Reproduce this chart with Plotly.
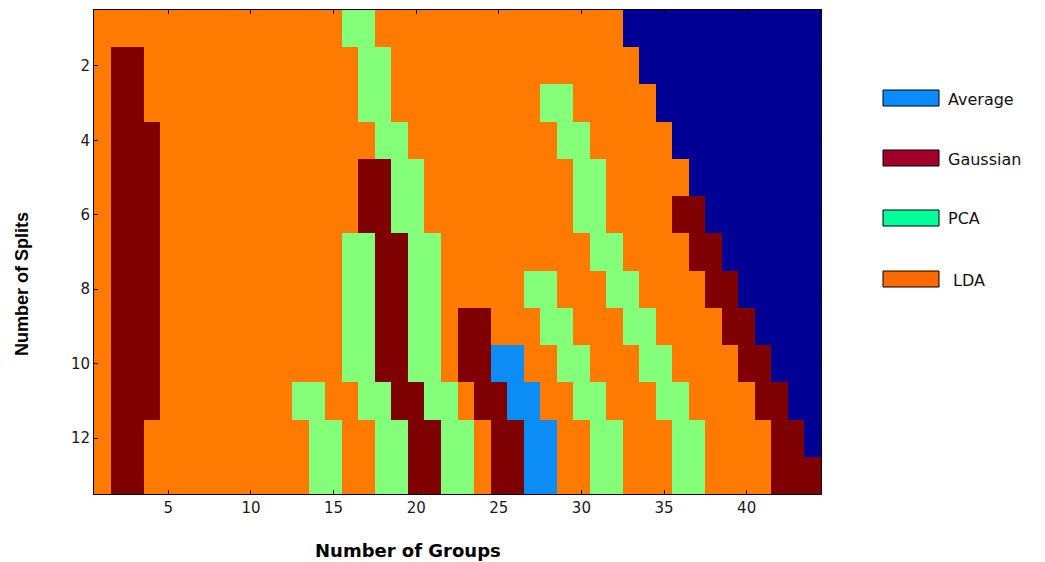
import plotly.graph_objects as go

# Best method per (number of splits, number of groups), written as runs
# of "<code><count>" along the groups axis, one entry per number of splits.
# Codes: N = not applicable, A = Average, G = Gaussian, P = PCA, L = LDA
n_groups = list(range(1, 45))
n_splits = list(range(1, 14))

best_method_runs = [
    "L15 P2 L15 N12",
    "L1 G2 L13 P2 L15 N11",
    "L1 G2 L13 P2 L9 P2 L5 N10",
    "L1 G3 L13 P2 L9 P2 L5 N9",
    "L1 G3 L12 G2 P2 L9 P2 L5 N8",
    "L1 G3 L12 G2 P2 L9 P2 L4 G2 N7",
    "L1 G3 L11 P2 G2 P2 L9 P2 L4 G2 N6",
    "L1 G3 L11 P2 G2 P2 L5 P2 L3 P2 L4 G2 N5",
    "L1 G3 L11 P2 G2 P2 L1 G2 L3 P2 L3 P2 L4 G2 N4",
    "L1 G3 L11 P2 G2 P2 L1 G2 A2 L2 P2 L3 P2 L4 G2 N3",
    "L1 G3 L8 P2 L2 P2 G2 P2 L1 G2 A2 L2 P2 L3 P2 L4 G2 N2",
    "L1 G2 L10 P2 L2 P2 G2 P2 L1 G2 A2 L2 P2 L3 P2 L4 G2 N1",
    "L1 G2 L10 P2 L2 P2 G2 P2 L1 G2 A2 L2 P2 L3 P2 L4 G3",
]

method_codes = {"N": 0, "A": 1, "G": 2, "P": 3, "L": 4}
cell_colors = ["#000094", "#0C8CF5", "#7F0000", "#84FF7A", "#FF7A00"]

legend_labels = ["Average", "Gaussian", "PCA", " LDA"]
legend_colors = ["#0A8CFF", "#A0002A", "#00FF99", "#FF6A00"]

x_tick_vals = [5, 10, 15, 20, 25, 30, 35, 40]
y_tick_vals = [2, 4, 6, 8, 10, 12]


def expand_runs(spec):
    row = []
    for token in spec.split():
        row.extend([method_codes[token[0]]] * int(token[1:]))
    assert len(row) == len(n_groups), (spec, len(row))
    return row


z = [expand_runs(spec) for spec in best_method_runs]

# stepped colour scale, one band per method code
k = len(cell_colors)
colorscale = []
for i, c in enumerate(cell_colors):
    colorscale.append([i / k, c])
    colorscale.append([(i + 1) / k, c])

fig = go.Figure(
    go.Heatmap(
        x=n_groups,
        y=n_splits,
        z=z,
        zmin=-0.5,
        zmax=k - 0.5,
        colorscale=colorscale,
        showscale=False,
        hoverinfo="skip",
    )
)

tick_font = dict(family="DejaVu Sans, Liberation Sans, Arial", size=15, color="#1a1a1a")

axis_style = dict(
    ticks="inside",
    ticklen=4,
    tickcolor="black",
    showline=True,
    linecolor="black",
    linewidth=1,
    mirror="ticks",
    showgrid=False,
    zeroline=False,
    tickfont=tick_font,
)
fig.update_xaxes(range=[0.5, 44.5], tickvals=x_tick_vals, **axis_style)
fig.update_yaxes(range=[13.5, 0.5], tickvals=y_tick_vals, **axis_style)

plot_l, plot_r, plot_t, plot_b = 94, 821, 10, 494
W, H = 1045, 562
pw, ph = plot_r - plot_l, plot_b - plot_t


def px_x(px):
    return (px - plot_l) / pw


def px_y(py):
    return (plot_b - py) / ph


shapes = []
annotations = []
legend_tops = [90, 150, 210, 271]
for label, color, top in zip(legend_labels, legend_colors, legend_tops):
    shapes.append(
        dict(
            type="rect",
            xref="paper",
            yref="paper",
            x0=px_x(883),
            x1=px_x(939),
            y0=px_y(top + 16),
            y1=px_y(top),
            fillcolor=color,
            line=dict(color="black", width=1),
        )
    )
    annotations.append(
        dict(
            xref="paper",
            yref="paper",
            x=px_x(946),
            y=px_y(top + 9),
            xanchor="left",
            yanchor="middle",
            text=label,
            showarrow=False,
            font=dict(family="DejaVu Sans, Liberation Sans, Arial", size=16, color="#111111"),
        )
    )

annotations.append(
    dict(
        xref="paper",
        yref="paper",
        x=px_x(408),
        y=px_y(550),
        xanchor="center",
        yanchor="middle",
        text="<b>Number of Groups</b>",
        showarrow=False,
        font=dict(family="DejaVu Sans, Liberation Sans, Arial", size=18, color="black"),
    )
)
annotations.append(
    dict(
        xref="paper",
        yref="paper",
        x=px_x(22),
        y=px_y(284),
        xanchor="center",
        yanchor="middle",
        text="<b>Number of Splits</b>",
        textangle=-90,
        showarrow=False,
        font=dict(family="Liberation Sans Narrow, Liberation Sans, Arial", size=18, color="black"),
    )
)

fig.update_layout(
    width=W,
    height=H,
    margin=dict(l=plot_l, r=W - plot_r, t=plot_t, b=H - plot_b, pad=0),
    paper_bgcolor="white",
    plot_bgcolor="white",
    shapes=shapes,
    annotations=annotations,
    showlegend=False,
)

fig.write_html("out.html")
